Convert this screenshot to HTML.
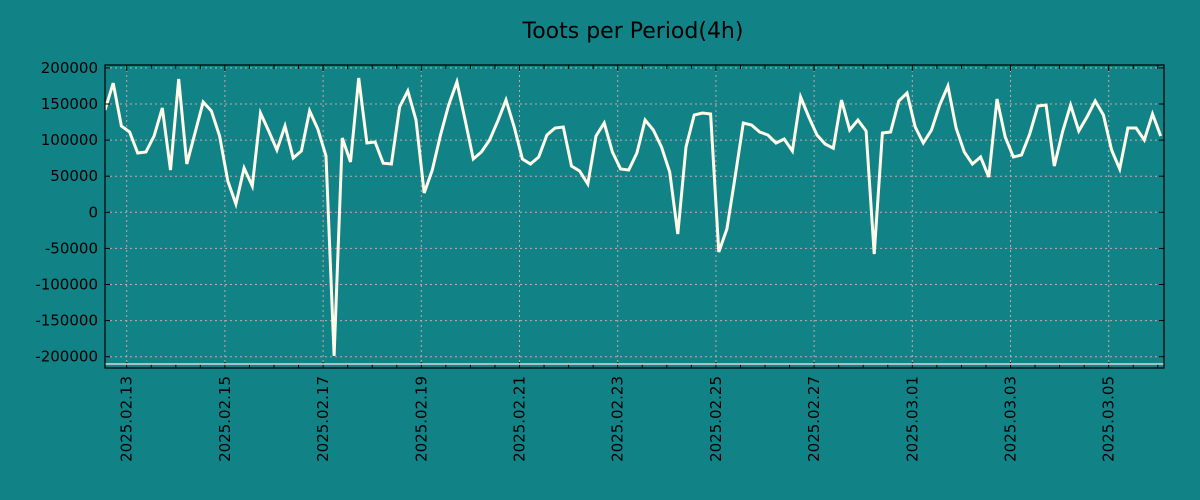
<!DOCTYPE html>
<html><head><meta charset="utf-8"><style>
body{margin:0;background:#118286;}
svg{display:block;font-family:"DejaVu Sans","Liberation Sans",sans-serif;}
</style></head><body>
<svg id="chart" width="1200" height="500">
<rect width="1200" height="500" fill="#118286"/>
<text x="633" y="38" font-size="22" text-anchor="middle" fill="#000">Toots per Period(4h)</text>
<g id="grid"></g><g id="series"></g><g id="axes"></g>
</svg>
<script>
const values=[141700,179000,119500,111200,82100,83500,105700,144500,58600,184600,66900,109800,152800,140300,105700,43400,11500,61400,36400,137500,112600,86300,119500,75200,84900,140300,115400,78000,-199000,102900,69700,186000,96000,97400,68000,66900,145800,168000,127800,26700,58600,107100,148600,180500,127800,73800,83500,100100,126500,155500,118100,73800,66900,76600,107100,116800,118100,64100,57200,39200,105700,123700,83500,60000,58600,82100,127800,114000,90400,55800,-30100,90400,134800,137500,136100,-55000,-23100,48900,123700,120900,111200,107100,96000,101500,84900,159700,132000,107100,94600,88800,155500,114000,127800,112600,-57800,109800,111200,154100,165200,118100,96000,114000,148600,174900,116800,83500,66900,76600,48900,156900,104300,76600,79300,108500,147200,148600,64100,111200,148600,112600,132000,154100,134800,86300,60000,116800,116800,100100,136100,105700];
const yTicks=[200000,150000,100000,50000,0,-50000,-100000,-150000,-200000];
const xTickLabels=["2025.02.13","2025.02.15","2025.02.17","2025.02.19","2025.02.21","2025.02.23","2025.02.25","2025.02.27","2025.03.01","2025.03.03","2025.03.05"];
const startDay=-0.442, periodDays=1/6, xMin=-0.442, xMax=21.126, yMin=-214000, yMax=204000;
const L=105,R=1164,T=65,B=368;
const X=d=>L+(d-xMin)/(xMax-xMin)*(R-L);
const Y=v=>212.3-v/50000*36.1;
const NS="http://www.w3.org/2000/svg";
function mk(tag,attrs,parent){const e=document.createElementNS(NS,tag);for(const k in attrs)e.setAttribute(k,attrs[k]);parent.appendChild(e);return e;}
const grid=document.getElementById('grid'),axes=document.getElementById('axes'),series=document.getElementById('series');
yTicks.forEach(v=>{const y=Y(v);
 const g=mk('line',{x1:L,x2:R,y1:y,y2:y,stroke:'#c8a8a8','stroke-dasharray':'2,3','stroke-width':1},grid);
 
 
 mk('line',{x1:L,x2:L+5,y1:y,y2:y,stroke:'#000'},axes);
 mk('line',{x1:R-5,x2:R,y1:y,y2:y,stroke:'#000'},axes);
 const t=mk('text',{x:98,y:y+5,'font-size':15,'text-anchor':'end',fill:'#000'},axes);t.textContent=v;
 
 
});
xTickLabels.forEach((lab,i)=>{const x=X(i*2);
 const g=mk('line',{x1:x,x2:x,y1:T,y2:B,stroke:'#c8a8a8','stroke-dasharray':'2,3','stroke-width':1},grid);
 
 
 const t=mk('text',{x:0,y:0,'font-size':15,'text-anchor':'end',fill:'#000',transform:`translate(${x+5},376) rotate(-90)`},axes);t.textContent=lab;
 
 
});
for(let d=Math.ceil(xMin*2)/2;d<=xMax;d+=0.5){const x=X(d);const len=(Math.abs(d%2)<1e-6)?6:4;
 mk('line',{x1:x,x2:x,y1:B,y2:B-len,stroke:'#000'},axes);mk('line',{x1:x,x2:x,y1:T,y2:T+len,stroke:'#000'},axes);}
const pts=values.map((v,i)=>X(startDay+i*periodDays).toFixed(1)+','+Y(v).toFixed(1)).join(' ');
const clip=mk('clipPath',{id:'pc'},series);mk('rect',{x:L,y:T,width:R-L,height:B-T},clip);
const line=mk('polyline',{points:pts,fill:'none',stroke:'#fffbe8','stroke-width':3,'stroke-linejoin':'miter','clip-path':'url(#pc)'},series);


mk('line',{x1:L,x2:R,y1:B-4,y2:B-4,stroke:'#d8d8d8','stroke-width':1.5},axes);
const frame=mk('rect',{x:L,y:T,width:R-L,height:B-T,fill:'none',stroke:'#000','stroke-width':1.2},axes);


</script>
</body></html>
